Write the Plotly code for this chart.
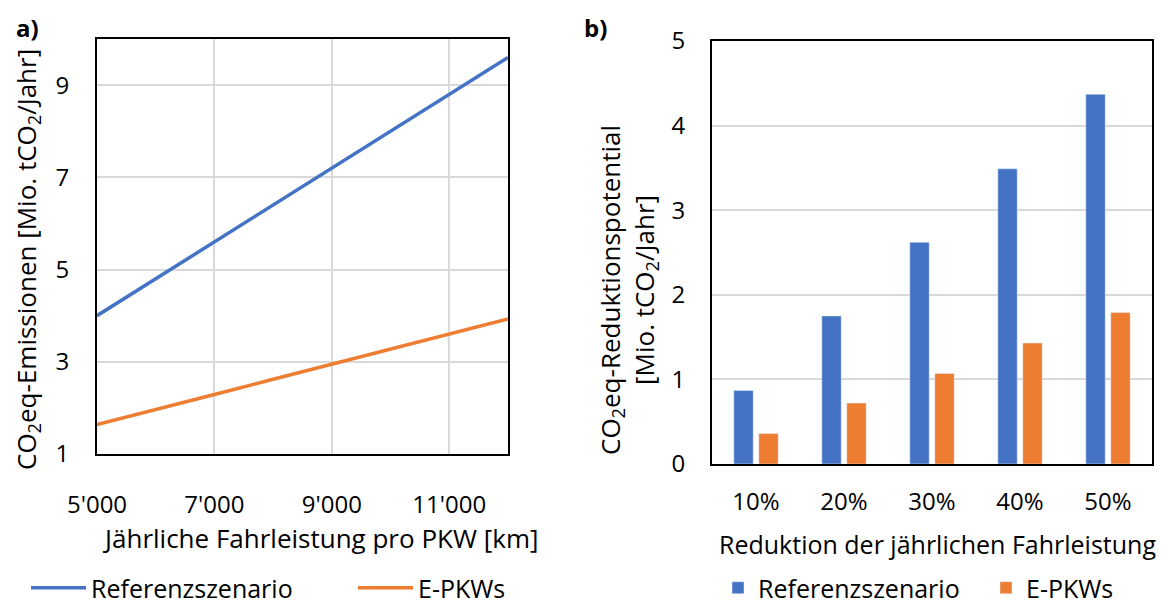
import plotly.graph_objects as go

# ---- data ----
km = [5000, 6000, 7000, 8000, 9000, 10000, 11000, 12000]
ref_emis = [4.0, 4.8, 5.6, 6.4, 7.2, 8.0, 8.8, 9.6]
epkw_emis = [1.64, 1.96, 2.29, 2.62, 2.95, 3.27, 3.60, 3.93]
x_ticks = [5000, 7000, 9000, 11000]
x_tick_labels = ["5'000", "7'000", "9'000", "11'000"]
y1_ticks = [1, 3, 5, 7, 9]

reduction = ["10%", "20%", "30%", "40%", "50%"]
ref_red = [0.87, 1.75, 2.62, 3.49, 4.37]
epkw_red = [0.36, 0.72, 1.07, 1.43, 1.79]
y2_ticks = [0, 1, 2, 3, 4, 5]

BLUE = "#4472C4"
ORANGE = "#ED7D31"
FONT = "Open Sans"
OFF = 8  # default page body margin
W, H = 1168 - OFF, 600 - OFF

fig = go.Figure()
fig.add_trace(go.Scatter(x=km, y=ref_emis, mode="lines", name="Referenzszenario",
                         line=dict(color=BLUE, width=3.5), xaxis="x", yaxis="y",
                         legend="legend", cliponaxis=False))
fig.add_trace(go.Scatter(x=km, y=epkw_emis, mode="lines", name="E-PKWs",
                         line=dict(color=ORANGE, width=3.5), xaxis="x", yaxis="y",
                         legend="legend", cliponaxis=False))
fig.add_trace(go.Bar(x=reduction, y=ref_red, name="Referenzszenario",
                     marker=dict(color=BLUE), xaxis="x2", yaxis="y2", legend="legend2"))
fig.add_trace(go.Bar(x=reduction, y=epkw_red, name="E-PKWs",
                     marker=dict(color=ORANGE), xaxis="x2", yaxis="y2", legend="legend2"))

def px(x):
    return (x - OFF) / W

def py(y):
    return 1 - (y - OFF) / H

L1, R1, T1, B1 = 97, 508, 39, 454
L2, R2, T2, B2 = 712, 1152, 41, 464

ax_common = dict(showline=True, linecolor="black", linewidth=2, mirror=True,
                 gridcolor="#d9d9d9", gridwidth=1.5, zeroline=False,
                 ticks="outside", tickcolor="rgba(0,0,0,0)",
                 tickfont=dict(family=FONT, size=24, color="black"))

fig.update_layout(
    width=W, height=H,
    margin=dict(l=0, r=0, t=0, b=0, autoexpand=False),
    paper_bgcolor="white", plot_bgcolor="white",
    font=dict(family=FONT, color="black"),
    barmode="group", bargap=0.432, bargroupgap=0.224,
    xaxis=dict(domain=[px(L1), px(R1)], range=[5000, 12000], tickvals=x_ticks,
               ticktext=x_tick_labels, ticklen=28, anchor="y", **ax_common),
    yaxis=dict(domain=[py(B1), py(T1)], range=[1, 10], tickvals=y1_ticks,
               ticklen=21, anchor="x", **ax_common),
    xaxis2=dict(domain=[px(L2), px(R2)], showgrid=False, ticklen=15, anchor="y2",
                **ax_common),
    yaxis2=dict(domain=[py(B2), py(T2)], range=[0, 5], tickvals=y2_ticks,
                ticklen=20, anchor="x2", **ax_common),
    legend=dict(orientation="h", x=px(26), y=py(588), xanchor="left", yanchor="middle",
                font=dict(family=FONT, size=25, color="black"), itemwidth=55,
                entrywidth=257, entrywidthmode="pixels", bgcolor="rgba(0,0,0,0)"),
    legend2=dict(orientation="h", x=px(718), y=py(588), xanchor="left", yanchor="middle",
                 font=dict(family=FONT, size=25, color="black"),
                 entrywidth=223, entrywidthmode="pixels", bgcolor="rgba(0,0,0,0)"),
    showlegend=True,
)

ann = [
    dict(text="<b>a)</b>", x=px(27), y=py(28), size=24),
    dict(text="<b>b)</b>", x=px(595), y=py(28), size=24),
    dict(text="Jährliche Fahrleistung pro PKW [km]", x=px(320), y=py(538), size=26),
    dict(text="Reduktion der jährlichen Fahrleistung", x=px(937), y=py(544), size=25),
    dict(text="CO<sub>2</sub>eq-Emissionen [Mio. tCO<sub>2</sub>/Jahr]", x=px(27), y=py(260),
         textangle=-90, size=26),
    dict(text="CO<sub>2</sub>eq-Reduktionspotential<br>[Mio. tCO<sub>2</sub>/Jahr]",
         x=px(628), y=py(290), textangle=-90, size=26),
]
for a in ann:
    size = a.pop("size")
    fig.add_annotation(xref="paper", yref="paper", showarrow=False,
                       xanchor="center", yanchor="middle",
                       font=dict(family=FONT, size=size, color="black"), **a)

fig.write_html("out.html")
